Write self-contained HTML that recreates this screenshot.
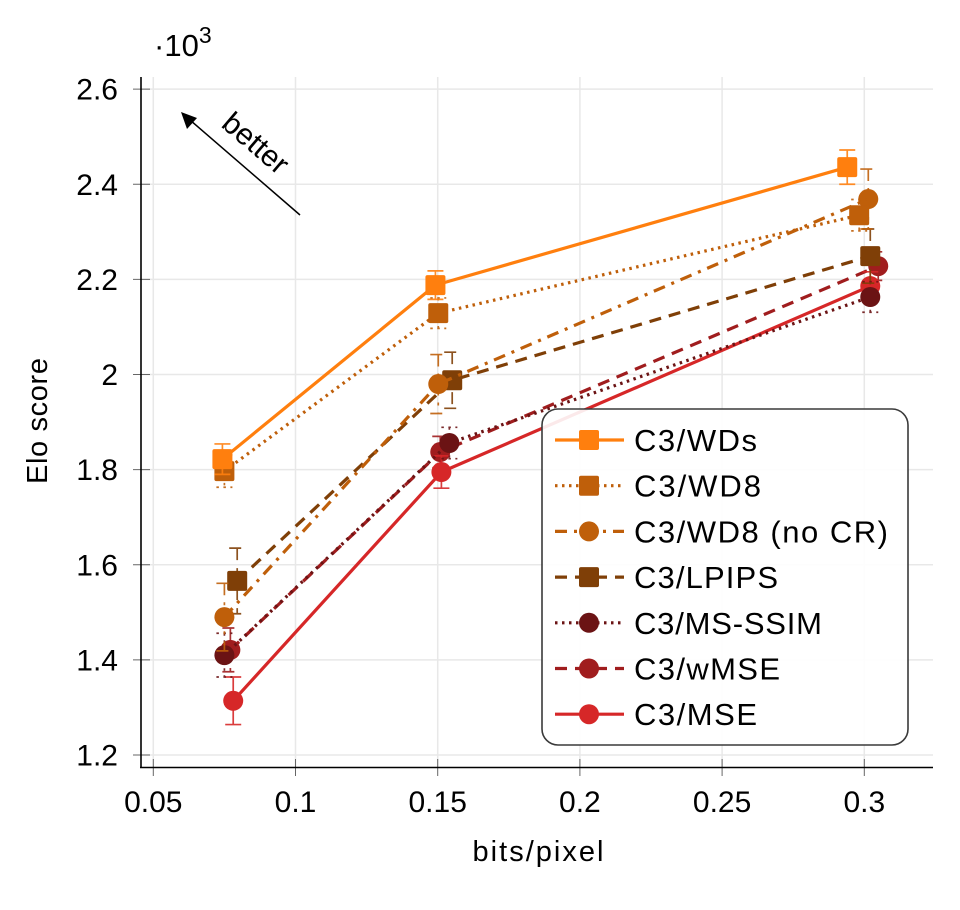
<!DOCTYPE html>
<html lang="en">
<head>
<meta charset="utf-8">
<title>Elo score vs bits/pixel</title>
<style>
html,body{margin:0;padding:0;background:#fff;width:960px;height:910px;overflow:hidden}
svg{display:block}
text{font-family:"Liberation Sans",sans-serif;fill:#000}
</style>
</head>
<body>
<svg id="chart" xmlns="http://www.w3.org/2000/svg" width="960" height="910" viewBox="0 0 960 910">
  <rect x="0" y="0" width="960" height="910" fill="#fff"/>
  <g id="grid"></g>
  <g id="ticks"></g>
  <g id="marks"></g>
  <line x1="141" y1="77" x2="141" y2="768" stroke="#000" stroke-width="1.6"/>
  <line x1="140" y1="767.5" x2="933" y2="767.5" stroke="#000" stroke-width="1.6"/>
  <g id="labels"></g>
  <text x="154" y="56" font-size="31">·10<tspan dy="-13" font-size="23">3</tspan></text>
  <text x="538" y="861" font-size="29" text-anchor="middle" textLength="131" lengthAdjust="spacing">bits/pixel</text>
  <text transform="translate(47,421) rotate(-90)" font-size="29" text-anchor="middle" textLength="126" lengthAdjust="spacing">Elo score</text>
  <line x1="300" y1="215" x2="190" y2="120" stroke="#000" stroke-width="1.5"/>
  <polygon points="181,112 197,118 187,129" fill="#000"/>
  <text transform="translate(220,126) rotate(40.5)" font-size="30">better</text>
  <g id="legend">
    <rect x="542" y="409" width="366" height="336" rx="16" ry="16" fill="#fff" fill-opacity="0.9" stroke="#3a3a3a" stroke-width="1.6"/>
  </g>
</svg>
<script>
const xTicks = [0.05, 0.1, 0.15, 0.2, 0.25, 0.3];
const xTickLabels = ['0.05', '0.1', '0.15', '0.2', '0.25', '0.3'];
const yTicks = [1.2, 1.4, 1.6, 1.8, 2, 2.2, 2.4, 2.6];
const yTickLabels = ['1.2', '1.4', '1.6', '1.8', '2', '2.2', '2.4', '2.6'];

const wdsX = [0.0743, 0.1492, 0.2940];
const wdsY = [1.822, 2.188, 2.436];
const wdsErr = [0.032, 0.030, 0.036];
const wd8X = [0.0750, 0.1502, 0.2982];
const wd8Y = [1.797, 2.129, 2.335];
const wd8Err = [0.034, 0.032, 0.033];
const nocrX = [0.0750, 0.1502, 0.3014];
const nocrY = [1.490, 1.980, 2.369];
const nocrErr = [0.071, 0.062, 0.063];
const lpipsX = [0.0795, 0.1551, 0.3021];
const lpipsY = [1.566, 1.988, 2.249];
const lpipsErr = [0.069, 0.059, 0.057];
const msssimX = [0.0750, 0.1541, 0.3021];
const msssimY = [1.410, 1.856, 2.163];
const msssimErr = [0.046, 0.033, 0.032];
const wmseX = [0.0771, 0.1509, 0.3049];
const wmseY = [1.421, 1.837, 2.228];
const wmseErr = [0.046, 0.033, 0.030];
const mseX = [0.0781, 0.1513, 0.3021];
const mseY = [1.314, 1.795, 2.186];
const mseErr = [0.050, 0.034, 0.030];

const NS = 'http://www.w3.org/2000/svg';
const xScale = v => 153.3 + (v - 0.05) * 2844;
const yScale = v => 755 - (v - 1.2) * 475.6;

const DOT = '2.5 4.5', DASH = '12 8', DASHDOT = '12 7 3 7';
const series = {
  wmse:   {label:'C3/wMSE',        xs:wmseX,   ys:wmseY,   es:wmseErr,   color:'#a01d1e', dash:DASH,    marker:'circle', right:780},
  mse:    {label:'C3/MSE',         xs:mseX,    ys:mseY,    es:mseErr,    color:'#d62728', dash:'',      marker:'circle', right:757},
  msssim: {label:'C3/MS-SSIM',     xs:msssimX, ys:msssimY, es:msssimErr, color:'#6b1314', dash:DOT,     marker:'circle', right:822},
  lpips:  {label:'C3/LPIPS',       xs:lpipsX,  ys:lpipsY,  es:lpipsErr,  color:'#7f3f07', dash:DASH,    marker:'square', right:778},
  nocr:   {label:'C3/WD8 (no CR)', xs:nocrX,   ys:nocrY,   es:nocrErr,   color:'#bf5f0a', dash:DASHDOT, marker:'circle', right:888},
  wd8:    {label:'C3/WD8',         xs:wd8X,    ys:wd8Y,    es:wd8Err,    color:'#bf5f0a', dash:DOT,     marker:'square', right:761},
  wds:    {label:'C3/WDs',         xs:wdsX,    ys:wdsY,    es:wdsErr,    color:'#ff7f0e', dash:'',      marker:'square', right:757}
};
const drawOrder = ['wmse', 'mse', 'msssim', 'lpips', 'nocr', 'wd8', 'wds'];
const legendOrder = ['wds', 'wd8', 'nocr', 'lpips', 'msssim', 'wmse', 'mse'];

function mk(parent, tag, attrs) {
  const el = document.createElementNS(NS, tag);
  for (const k in attrs) el.setAttribute(k, attrs[k]);
  parent.appendChild(el);
  return el;
}
function drawMarker(parent, type, cx, cy, color, key) {
  let el;
  if (type === 'square') {
    el = mk(parent, 'rect', {x: cx - 10, y: cy - 10, width: 20, height: 20, rx: 2, ry: 2, fill: color});
  } else {
    el = mk(parent, 'circle', {cx: cx, cy: cy, r: 10, fill: color});
  }
  
  
}

const grid = document.getElementById('grid');
const ticks = document.getElementById('ticks');
const labels = document.getElementById('labels');
xTicks.forEach((v, i) => {
  const x = xScale(v);
  const g = mk(grid, 'line', {x1: x, y1: 77, x2: x, y2: 767, stroke: '#e8e8e8', 'stroke-width': 1.5});
  
  
  const t = mk(ticks, 'line', {x1: x, y1: 759, x2: x, y2: 776, stroke: '#666', 'stroke-width': 1});
  
  
  const l = mk(labels, 'text', {x: x, y: 812, 'font-size': 30, 'text-anchor': 'middle'});
  
  
  l.textContent = xTickLabels[i];
});
yTicks.forEach((v, i) => {
  const y = yScale(v);
  const g = mk(grid, 'line', {x1: 141, y1: y, x2: 933, y2: y, stroke: '#e8e8e8', 'stroke-width': 1.5});
  
  
  const t = mk(ticks, 'line', {x1: 133, y1: y, x2: 150, y2: y, stroke: '#666', 'stroke-width': 1});
  
  
  const l = mk(labels, 'text', {x: 118, y: y + 10.5, 'font-size': 30, 'text-anchor': 'end'});
  
  
  l.textContent = yTickLabels[i];
});

const marks = document.getElementById('marks');
drawOrder.forEach(key => {
  const s = series[key];
  const g = mk(marks, 'g', {});
  
  
  const pts = s.xs.map((x, i) => xScale(x) + ',' + yScale(s.ys[i])).join(' ');
  const line = mk(g, 'polyline', {points: pts, fill: 'none', stroke: s.color, 'stroke-width': 3.2, 'stroke-linejoin': 'round'});
  if (s.dash) line.setAttribute('stroke-dasharray', s.dash);
  
  
  s.xs.forEach((xv, i) => {
    const x = xScale(xv);
    const top = yScale(s.ys[i] + s.es[i]);
    const bot = yScale(s.ys[i] - s.es[i]);
    const eb = mk(g, 'path', {
      d: 'M' + x + ' ' + top + 'V' + bot + 'M' + (x - 8) + ' ' + top + 'H' + (x + 8) + 'M' + (x - 8) + ' ' + bot + 'H' + (x + 8),
      fill: 'none', stroke: s.color, 'stroke-width': 1.7, 'stroke-opacity': 0.9
    });
    if (s.dash) eb.setAttribute('stroke-dasharray', s.dash);
    
    
  });
  s.xs.forEach((xv, i) => {
    drawMarker(g, s.marker, xScale(xv), yScale(s.ys[i]), s.color, key);
  });
});

const legend = document.getElementById('legend');
const legendRowY = i => 440 + i * 45.7;
legendOrder.forEach((key, i) => {
  const s = series[key];
  const y = legendRowY(i);
  const g = mk(legend, 'g', {});
  
  
  const ln = mk(g, 'line', {x1: 555, y1: y, x2: 624, y2: y, stroke: s.color, 'stroke-width': 3.2});
  if (s.dash) ln.setAttribute('stroke-dasharray', s.dash);
  
  
  drawMarker(g, s.marker, 589, y, s.color, 'legend-' + key);
  const t = mk(g, 'text', {x: 634, y: y + 11, 'font-size': 31, textLength: s.right - 634, lengthAdjust: 'spacing'});
  
  
  t.textContent = s.label;
});
</script>
</body>
</html>
